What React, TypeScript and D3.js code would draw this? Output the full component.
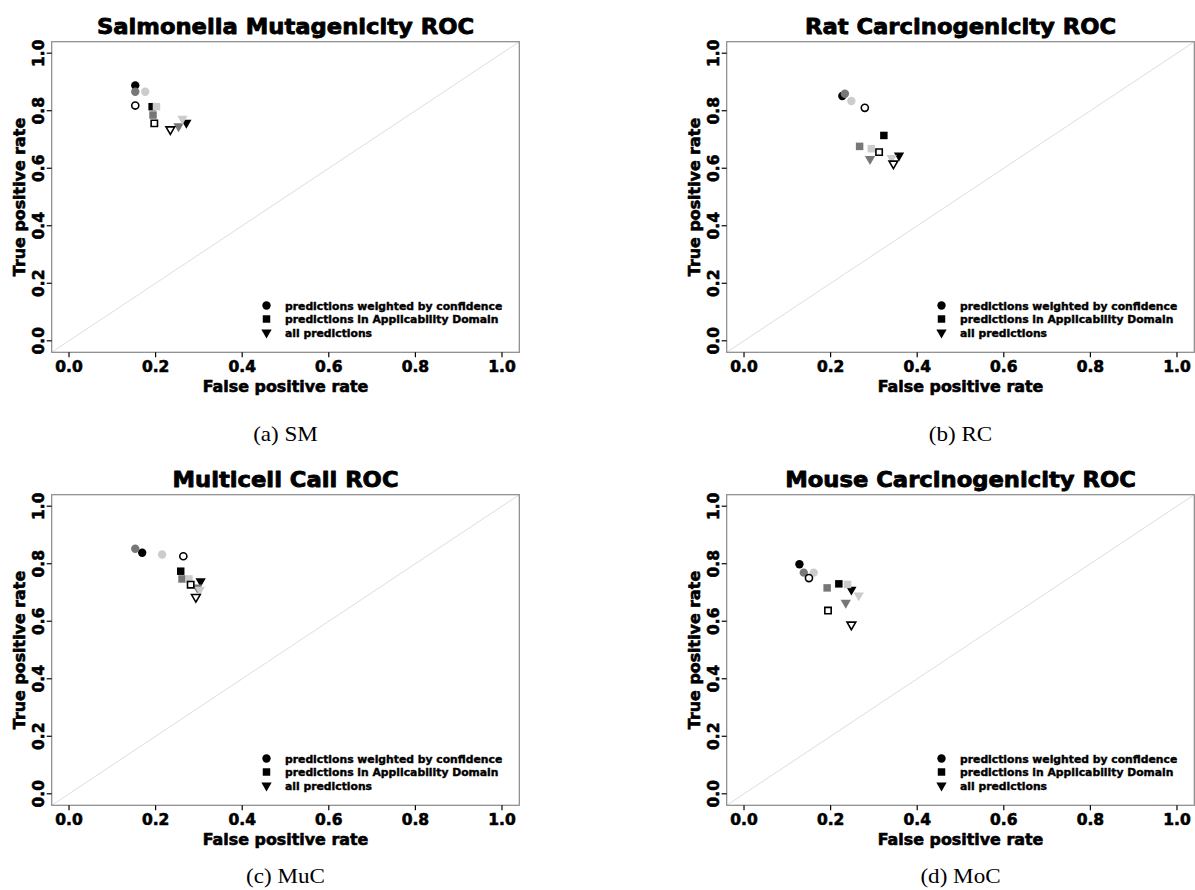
import React from "react";
import * as d3 from "d3";

// ---- data (series order: black, dark gray, light gray, open) ----
const panelTitles = [
  "Salmonella Mutagenicity ROC",
  "Rat Carcinogenicity ROC",
  "Multicell Call ROC",
  "Mouse Carcinogenicity ROC",
];
const captions = ["(a) SM", "(b) RC", "(c) MuC", "(d) MoC"];
const xTicks = [0, 0.2, 0.4, 0.6, 0.8, 1.0];
const yTicks = [0, 0.2, 0.4, 0.6, 0.8, 1.0];
const legendLabels = [
  "predictions weighted by confidence",
  "predictions in Applicability Domain",
  "all predictions",
];
const seriesFill = ["#000000", "#777777", "#cccccc", "#ffffff"];
const seriesStroke = ["none", "none", "none", "#000000"];

// SM
const smFprWeighted = [0.153, 0.153, 0.176, 0.153];
const smTprWeighted = [0.888, 0.866, 0.866, 0.818];
const smFprAD = [0.192, 0.194, 0.202, 0.197];
const smTprAD = [0.814, 0.785, 0.814, 0.756];
const smFprAll = [0.271, 0.253, 0.262, 0.234];
const smTprAll = [0.758, 0.746, 0.772, 0.735];
// RC
const rcFprWeighted = [0.227, 0.233, 0.248, 0.279];
const rcTprWeighted = [0.851, 0.859, 0.834, 0.81];
const rcFprAD = [0.323, 0.267, 0.294, 0.312];
const rcTprAD = [0.714, 0.676, 0.668, 0.656];
const rcFprAll = [0.358, 0.291, 0.341, 0.345];
const rcTprAll = [0.644, 0.632, 0.636, 0.616];
// MuC
const mucFprWeighted = [0.169, 0.153, 0.215, 0.264];
const mucTprWeighted = [0.838, 0.852, 0.832, 0.826];
const mucFprAD = [0.258, 0.261, 0.277, 0.281];
const mucTprAD = [0.774, 0.747, 0.747, 0.727];
const mucFprAll = [0.304, 0.296, 0.302, 0.293];
const mucTprAll = [0.739, 0.717, 0.71, 0.684];
// MoC
const mocFprWeighted = [0.128, 0.138, 0.161, 0.15];
const mocTprWeighted = [0.798, 0.769, 0.769, 0.75];
const mocFprAD = [0.219, 0.192, 0.239, 0.194];
const mocTprAD = [0.73, 0.716, 0.728, 0.637];
const mocFprAll = [0.248, 0.235, 0.265, 0.248];
const mocTprAll = [0.71, 0.664, 0.69, 0.588];

const panelData = [
  [[smFprWeighted, smTprWeighted], [smFprAD, smTprAD], [smFprAll, smTprAll]],
  [[rcFprWeighted, rcTprWeighted], [rcFprAD, rcTprAD], [rcFprAll, rcTprAll]],
  [[mucFprWeighted, mucTprWeighted], [mucFprAD, mucTprAD], [mucFprAll, mucTprAll]],
  [[mocFprWeighted, mocTprWeighted], [mocFprAD, mocTprAD], [mocFprAll, mocTprAll]],
];

// ---- layout ----
const W = 1195;
const H = 890;
const colOff = [0, 675];
const rowOff = [0, 453];
const captionBaseline = [441, 883];
const box = { left: 51.7, right: 519.3, top: 41.7, bottom: 352.3 };
const SANS = "'DejaVu Sans', sans-serif";

const symbolTypes = [d3.symbolCircle, d3.symbolSquare, d3.symbolTriangle];
const symbolSizes = [55, 56, 46];
const symbolRot = [0, 0, 180];

function Marker({ shape, x, y, fill, stroke, open }: any) {
  const size = open ? symbolSizes[shape] * 0.72 : symbolSizes[shape];
  const path = d3.symbol().type(symbolTypes[shape]).size(size)()!;
  return (
    <path
      d={path}
      transform={`translate(${x},${y}) rotate(${symbolRot[shape]})`}
      fill={fill}
      stroke={stroke}
      strokeWidth={open ? 1.6 : 0}
    />
  );
}

function T({ x, y, rot = 0, sx = 1, size, heavy = 0.5, anchor = "middle", children }: any) {
  return (
    <text
      transform={`translate(${x},${y}) rotate(${rot}) scale(${sx},1)`}
      textAnchor={anchor}
      fontFamily={SANS}
      fontWeight="bold"
      fontSize={size}
      stroke="#000"
      strokeWidth={heavy}
      strokeLinejoin="round"
    >
      {children}
    </text>
  );
}

function Panel({ idx }: { idx: number }) {
  const col = idx % 2;
  const row = Math.floor(idx / 2);
  const ox = colOff[col];
  const oy = rowOff[row];
  const x = d3.scaleLinear().domain([-0.04, 1.04]).range([box.left, box.right]);
  const y = d3.scaleLinear().domain([-0.04, 1.04]).range([box.bottom, box.top]);
  const cx = (box.left + box.right) / 2;
  const cy = (box.top + box.bottom) / 2;
  const data = panelData[idx];
  const legX = 266.5;
  const legRows = [305.5, 319, 332.5];
  return (
    <g transform={`translate(${ox},${oy})`}>
      <T x={cx} y={34} size={21} sx={1.08} heavy={0.8}>
        {panelTitles[idx]}
      </T>
      <line x1={x(-0.04)} y1={y(-0.04)} x2={x(1.04)} y2={y(1.04)} stroke="#dedede" strokeWidth={1} />
      <rect
        x={box.left}
        y={box.top}
        width={box.right - box.left}
        height={box.bottom - box.top}
        fill="none"
        stroke="#888888"
        strokeWidth={1.2}
      />
      {xTicks.map((t) => (
        <g key={"xt" + t}>
          <line x1={x(t)} x2={x(t)} y1={box.bottom} y2={box.bottom + 5} stroke="#000" strokeWidth={1.2} />
          <T x={x(t)} y={371.5} size={15.5} heavy={0.6}>
            {t.toFixed(1)}
          </T>
        </g>
      ))}
      {yTicks.map((t) => (
        <g key={"yt" + t}>
          <line x1={box.left - 5} x2={box.left} y1={y(t)} y2={y(t)} stroke="#000" strokeWidth={1.2} />
          <T x={43.5} y={y(t)} rot={-90} size={15.5} heavy={0.6}>
            {t.toFixed(1)}
          </T>
        </g>
      ))}
      <T x={cx} y={392} size={15} sx={1.06} heavy={0.6}>
        False positive rate
      </T>
      <T x={25} y={cy} rot={-90} size={15} sx={1.06} heavy={0.6}>
        True positive rate
      </T>
      {seriesFill.map((fill, s) =>
        data.map((pair, shape) => (
          <Marker
            key={`m${s}-${shape}`}
            shape={shape}
            x={x(pair[0][s])}
            y={y(pair[1][s])}
            fill={fill}
            stroke={seriesStroke[s]}
            open={s === 3}
          />
        ))
      )}
      {legendLabels.map((lab, i) => (
        <g key={"lg" + i}>
          <Marker shape={i} x={legX} y={legRows[i]} fill="#000" stroke="none" open={false} />
          <T x={285} y={legRows[i] + 4} size={10.8} heavy={0.4} anchor="start">
            {lab}
          </T>
        </g>
      ))}
      <text
        transform={`translate(${cx},${captionBaseline[row] - oy}) scale(1.1,1)`}
        textAnchor="middle"
        fontFamily="'Liberation Serif', serif"
        fontSize={21}
      >
        {captions[idx]}
      </text>
    </g>
  );
}

export default function App() {
  return (
    <svg
      width={W}
      height={H}
      style={{ position: "absolute", left: 0, top: 0, background: "#fff" }}
    >
      <rect width={W} height={H} fill="#fff" />
      {[0, 1, 2, 3].map((i) => (
        <Panel key={i} idx={i} />
      ))}
    </svg>
  );
}
